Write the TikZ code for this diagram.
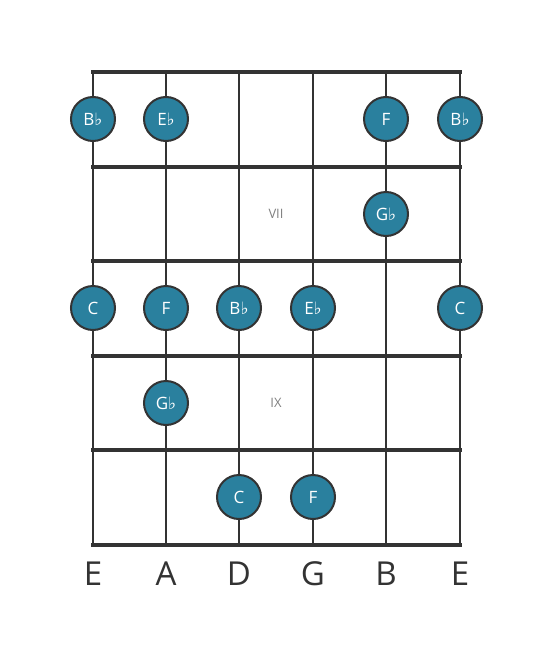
\documentclass[tikz,border=0pt]{standalone}
\usepackage{fontspec}
\setmainfont{Open Sans}
\newfontfamily\flatfont{DejaVu Sans}
\definecolor{notefill}{RGB}{42,128,158}
\definecolor{gridline}{RGB}{51,51,51}
\newcommand{\fl}{{\flatfont\char"266D}}
\tikzset{
  note/.style={circle, draw=gridline, line width=2pt, fill=notefill, minimum size=44pt, inner sep=0pt, text=white, font=\fontsize{17}{17}\selectfont},
  fretlabel/.style={text=black!50, font=\fontsize{13}{13}\selectfont},
  stringname/.style={text=gridline, font=\fontsize{33}{33}\selectfont}
}
\begin{document}
\begin{tikzpicture}[x=1pt, y=-1pt]
  \useasboundingbox (0,0) rectangle (553,656);
  %%%%% GRID %%%%%
  \foreach \sx in {93,166,239,313,386,460}
    \draw[gridline, line width=2.7pt] (\sx,72) -- (\sx,545);
  \foreach \fy in {167,261,356,450}
    \draw[gridline, line width=4pt] (91,\fy) -- (462,\fy);
  \draw[gridline, line width=4.5pt] (91,72) -- (462,72);
  \draw[gridline, line width=4.5pt] (91,545) -- (462,545);

  \node[fretlabel] (vii) at (276,214) {VII};
  \node[fretlabel] (ix) at (276,403) {IX};

  %%%%% NOTES %%%%%
  \node[note] (n1a) at (93,119) {B\fl};
  \node[note] (n1b) at (166,119) {E\fl};
  \node[note] (n1c) at (386,119) {F};
  \node[note] (n1d) at (460,119) {B\fl};

  \node[note] (n2a) at (386,214) {G\fl};

  \node[note] (n3a) at (93,308) {C};
  \node[note] (n3b) at (166,308) {F};
  \node[note] (n3c) at (239,308) {B\fl};
  \node[note] (n3d) at (313,308) {E\fl};
  \node[note] (n3e) at (460,308) {C};

  \node[note] (n4a) at (166,403) {G\fl};

  \node[note] (n5a) at (239,497) {C};
  \node[note] (n5b) at (313,497) {F};

  %%%%% STRING NAMES %%%%%
  \foreach \sx/\sn [count=\i] in {93/E,166/A,239/D,313/G,386/B,460/E}
    \node[stringname] (s\i) at (\sx,574) {\sn};
\end{tikzpicture}
\end{document}
